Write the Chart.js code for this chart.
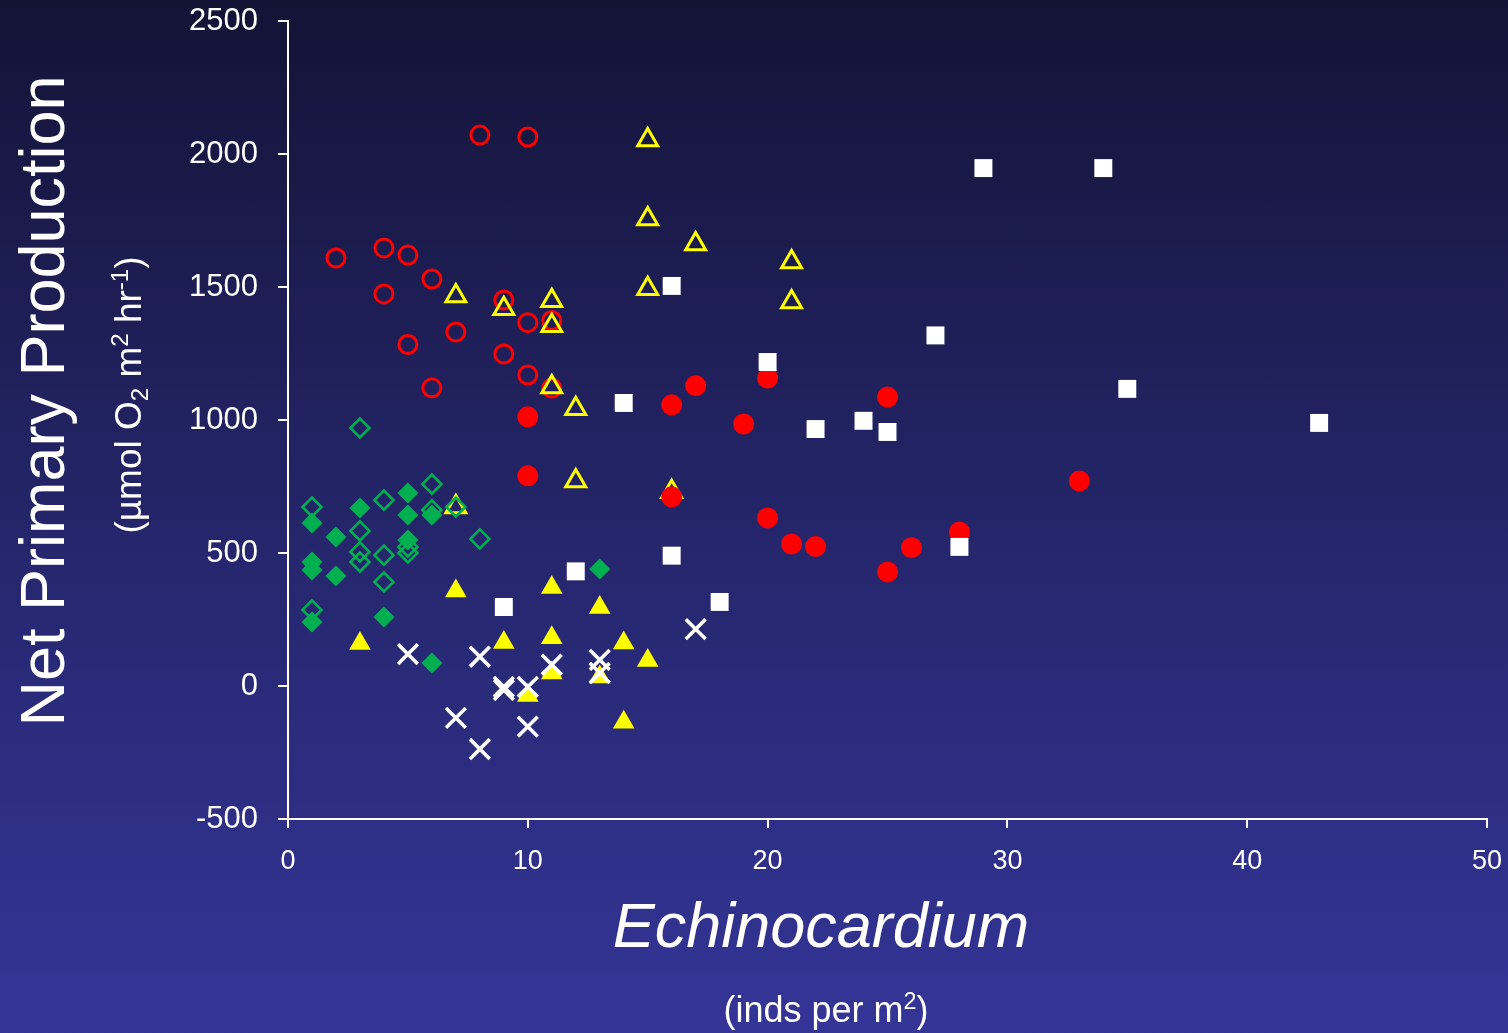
<!DOCTYPE html>
<html>
<head>
<meta charset="utf-8">
<script src="https://cdn.jsdelivr.net/npm/chart.js@4/dist/chart.umd.min.js"></script>
<style>
html,body{margin:0;padding:0;width:1508px;height:1033px;overflow:hidden;
background:linear-gradient(to bottom,#131336 0%,#1f205a 35%,#292a78 65%,#343597 100%);}
#wrap{position:absolute;left:0;top:0;width:1508px;height:1033px;}
</style>
</head>
<body>
<div id="wrap"><canvas id="c"></canvas></div>
<script>
// ---- data ----
const xTicks = [0, 10, 20, 30, 40, 50];
const yTicks = [-500, 0, 500, 1000, 1500, 2000, 2500];

const redOpenX = [8, 10, 2, 4, 5, 4, 6, 9, 7, 5, 10, 11, 9, 10, 6, 11];
const redOpenY = [2071, 2064, 1609, 1647, 1620, 1474, 1530, 1451, 1331, 1284, 1366, 1374, 1248, 1169, 1121, 1120];

const redFilledX = [10, 10, 16, 17, 19, 20, 16, 20, 21, 22, 25, 25, 26, 28, 33];
const redFilledY = [1012, 790, 1057, 1129, 985, 1158, 711, 632, 534, 524, 1086, 429, 520, 579, 771];

const yellowOpenX = [15, 15, 17, 21, 15, 21, 7, 9, 11, 11, 11, 12, 12, 16, 7];
const yellowOpenY = [2053, 1756, 1662, 1594, 1493, 1444, 1466, 1418, 1448, 1354, 1124, 1042, 771, 730, 673];

const yellowFilledX = [3, 7, 9, 10, 11, 11, 11, 13, 13, 14, 14, 15];
const yellowFilledY = [160, 357, 164, -36, 370, 181, 49, 295, 34, 162, -136, 96];

const whiteSquareX = [9, 12, 14, 16, 16, 18, 20, 22, 24, 25, 27, 28, 29, 34, 35, 43];
const whiteSquareY = [297, 431, 1064, 1504, 490, 316, 1218, 966, 997, 955, 1318, 523, 1947, 1947, 1117, 989];

const whiteCrossX = [5, 7, 8, 8, 9, 9, 10, 10, 11, 13, 13, 17];
const whiteCrossY = [120, -120, 110, -237, -3, -15, -3, -153, 80, 98, 49, 214];

const greenFilledX = [5, 3, 5, 6, 1, 2, 5, 1, 1, 2, 4, 1, 6, 13];
const greenFilledY = [726, 669, 643, 643, 613, 560, 549, 466, 436, 414, 259, 241, 86, 440];

const greenOpenX = [3, 1, 4, 6, 7, 3, 8, 3, 3, 4, 5, 5, 4, 1, 6];
const greenOpenY = [970, 673, 699, 759, 673, 583, 553, 504, 466, 492, 523, 500, 391, 286, 662];

const pts = (xs, ys) => xs.map((x, i) => ({x: x, y: ys[i]}));

const RED = '#FF0000', YELLOW = '#FFFF00', GREEN = '#00B050', WHITE = '#FFFFFF';

const datasets = [
  {label:'green open', data: pts(greenOpenX, greenOpenY), order:0, pointStyle:'rectRot',
   pointRadius:9.5, pointBorderWidth:2.6, pointBorderColor:GREEN, pointBackgroundColor:'rgba(0,0,0,0)'},
  {label:'green filled', data: pts(greenFilledX, greenFilledY), order:1, pointStyle:'rectRot',
   pointRadius:10.5, pointBorderWidth:0, pointBorderColor:GREEN, pointBackgroundColor:GREEN},
  {label:'white cross', data: pts(whiteCrossX, whiteCrossY), order:2, pointStyle:'crossRot',
   pointRadius:14, pointBorderWidth:3.6, pointBorderColor:WHITE, pointBackgroundColor:WHITE},
  {label:'white square', data: pts(whiteSquareX, whiteSquareY), order:3, pointStyle:'rect',
   pointRadius:12.7, pointBorderWidth:0, pointBorderColor:WHITE, pointBackgroundColor:WHITE},
  {label:'red filled', data: pts(redFilledX, redFilledY), order:4, pointStyle:'circle',
   pointRadius:10.5, pointBorderWidth:0, pointBorderColor:RED, pointBackgroundColor:RED},
  {label:'yellow open', data: pts(yellowOpenX, yellowOpenY), order:5, pointStyle:'triangle',
   pointRadius:11.5, pointBorderWidth:3, pointBorderColor:YELLOW, pointBackgroundColor:'rgba(0,0,0,0)'},
  {label:'red open', data: pts(redOpenX, redOpenY), order:6, pointStyle:'circle',
   pointRadius:9, pointBorderWidth:3, pointBorderColor:RED, pointBackgroundColor:'rgba(0,0,0,0)'},
  {label:'yellow filled', data: pts(yellowFilledX, yellowFilledY), order:7, pointStyle:'triangle',
   pointRadius:12.5, pointBorderWidth:0, pointBorderColor:YELLOW, pointBackgroundColor:YELLOW}
];
datasets.forEach(d => { d.showLine = false; d.pointHoverRadius = d.pointRadius; });

function drawRich(ctx, segs, cx, by, size, family) {
  const sub = size * 0.65;
  let total = 0;
  segs.forEach(s => {
    ctx.font = (s.m === 'n' ? size : sub) + 'px ' + family;
    s.w = ctx.measureText(s.t).width;
    total += s.w;
  });
  let x = cx - total / 2;
  ctx.textAlign = 'left';
  ctx.textBaseline = 'alphabetic';
  segs.forEach(s => {
    ctx.font = (s.m === 'n' ? size : sub) + 'px ' + family;
    let dy = 0;
    if (s.m === 'sub') dy = size * 0.18;
    if (s.m === 'sup') dy = -size * 0.36;
    ctx.fillText(s.t, x, by + dy);
    x += s.w;
  });
}

const FAM = '"Liberation Sans", Arial, sans-serif';

const titlesPlugin = {
  id: 'titles',
  afterDraw(chart) {
    const ctx = chart.ctx;
    ctx.save();
    ctx.fillStyle = WHITE;
    // y title
    ctx.save();
    ctx.translate(64, 401);
    ctx.rotate(-Math.PI / 2);
    ctx.font = '63px ' + FAM;
    ctx.textAlign = 'center';
    ctx.textBaseline = 'alphabetic';
    ctx.fillText('Net Primary Production', 0, 0);
    ctx.restore();
    // y subtitle
    ctx.save();
    ctx.translate(141, 395);
    ctx.rotate(-Math.PI / 2);
    drawRich(ctx, [
      {t:'(\u00B5mol O', m:'n'}, {t:'2', m:'sub'}, {t:' m', m:'n'}, {t:'2', m:'sup'},
      {t:' hr', m:'n'}, {t:'-1', m:'sup'}, {t:')', m:'n'}
    ], 0, 0, 37, FAM);
    ctx.restore();
    // x title
    ctx.font = 'italic 63px ' + FAM;
    ctx.textAlign = 'center';
    ctx.textBaseline = 'alphabetic';
    ctx.fillText('Echinocardium', 821, 947);
    // x subtitle
    drawRich(ctx, [{t:'(inds per m', m:'n'}, {t:'2', m:'sup'}, {t:')', m:'n'}], 826, 1022, 36, FAM);
    ctx.restore();
  }
};

new Chart(document.getElementById('c'), {
  type: 'scatter',
  data: { datasets: datasets },
  options: {
    responsive: true,
    maintainAspectRatio: false,
    animation: false,
    devicePixelRatio: 1,
    layout: { padding: { left: 0, right: 21, top: 21, bottom: 0 } },
    plugins: { legend: { display: false }, tooltip: { enabled: false } },
    scales: {
      x: {
        type: 'linear', min: 0, max: 50,
        afterBuildTicks: s => { s.ticks = xTicks.map(v => ({value: v})); },
        afterFit: s => { s.height = 214; s.paddingLeft = 0; s.paddingRight = 0; },
        ticks: { color: WHITE, font: { family: FAM, size: 27 }, padding: 17,
                 callback: v => String(v) },
        grid: { drawOnChartArea: false, drawTicks: true, tickLength: 9, color: WHITE, lineWidth: 2 },
        border: { display: true, color: WHITE, width: 2 }
      },
      y: {
        type: 'linear', min: -500, max: 2500,
        afterBuildTicks: s => { s.ticks = yTicks.map(v => ({value: v})); },
        afterFit: s => { s.width = 288; s.paddingTop = 0; s.paddingBottom = 0; },
        ticks: { color: WHITE, font: { family: FAM, size: 31 }, padding: 20,
                 callback: v => String(v) },
        grid: { drawOnChartArea: false, drawTicks: true, tickLength: 10, color: WHITE, lineWidth: 2 },
        border: { display: true, color: WHITE, width: 2 }
      }
    }
  },
  plugins: [titlesPlugin]
});
</script>
</body>
</html>
